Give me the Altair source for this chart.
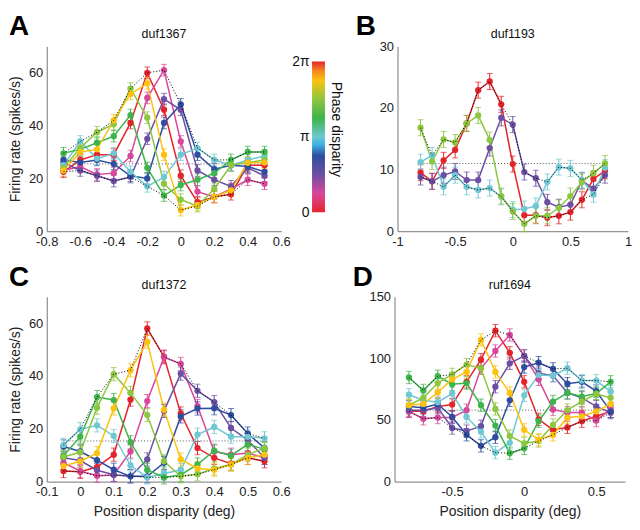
import altair as alt
import pandas as pd

FONT = "Liberation Sans"

# curve phase (in units of pi)
PH8 = [0.0, 0.25, 0.5, 0.75, 1.0, 1.25, 1.5, 1.75]
PH4 = [0.0, 0.5, 1.0, 1.5]

# ---------------- Panel A: duf1367 ----------------
XA = [-0.7, -0.6, -0.5, -0.4, -0.3, -0.2, -0.1, 0.0, 0.1, 0.2, 0.3, 0.4, 0.5]
A_RED = [22.5, 27, 29, 29, 41, 60, 46, 21, 11, 13, 14, 25, 25]
A_MAG = [23, 24.5, 21.5, 22, 28.5, 50.5, 61, 34, 15, 13, 16, 19.5, 18]
A_PUR = [26, 23, 21, 19, 20.5, 35, 50, 46, 23, 19.5, 17, 24, 21]
A_BLU = [27, 26, 27, 25.5, 21, 20, 41, 48, 29, 23.5, 25, 24.5, 22.5]
A_CYA = [25, 34, 27.5, 29.5, 22.5, 17, 20.5, 29, 31.5, 27, 25, 27, 28.5]
A_GRN = [29.5, 31, 33.5, 36, 44, 24, 13.5, 17.5, 19.5, 22, 27, 30, 30]
A_LGR = [24, 31.5, 37.5, 40.5, 54, 43, 18, 12, 9.5, 16, 25, 26, 27]
A_YEL = [23, 30, 31, 42, 52, 56, 29, 8, 10, 13, 15.5, 26, 26]
A_BASE = 25.5
A_ERR = 2.2

# ---------------- Panel B: duf1193 ----------------
XB = [-0.8, -0.7, -0.6, -0.5, -0.4, -0.3, -0.2, -0.1, 0.0, 0.1, 0.2, 0.3, 0.4, 0.5, 0.6, 0.7, 0.8]
B_RED = [9.5, 8.1, 11.5, 13.2, 17.5, 22.9, 24.3, 20.6, 10.9, 2.6, 2.6, 2.2, 2.5, 3.1, 5.1, 8.5, 9.8]
B_PUR = [8.8, 8.1, 9.1, 9.7, 8.3, 8.3, 13.5, 18.4, 17.3, 9.6, 8.6, 4.7, 3.9, 4.3, 8.2, 6.9, 9.1]
B_CYA = [11.2, 12.3, 7.2, 9.1, 7.2, 6.7, 7.0, 5.6, 3.5, 3.6, 4.1, 8.0, 10.4, 10.2, 8.3, 6.0, 10.3]
B_LGR = [16.8, 11.3, 14.9, 14.4, 17.5, 18.8, 14.8, 5.7, 3.2, 1.2, 2.5, 2.5, 3.8, 5.7, 8.0, 9.4, 11.0]
B_BASE = 11.0
B_ERR = 1.3

# ---------------- Panel C: duf1372 ----------------
XC = [-0.05, 0.0, 0.05, 0.1, 0.15, 0.2, 0.25, 0.3, 0.35, 0.4, 0.45, 0.5, 0.55]
C_RED = [4, 3.7, 5.5, 10.2, 31, 58, 47.3, 25.8, 12.7, 9, 6.8, 9, 7.7]
C_MAG = [7.1, 4, 2.2, 2.5, 11.4, 30.5, 47.1, 44.6, 28.6, 11.4, 10.2, 10.8, 9]
C_PUR = [9, 8, 4.3, 2.6, 2, 8.4, 26.8, 40.9, 34.4, 30.1, 20.3, 15.7, 9]
C_BLU = [13.3, 11.4, 8.1, 4.5, 2, 2, 7.1, 24.7, 27.7, 27.8, 25.2, 18.2, 12.7]
C_CYA = [13.9, 19.8, 21.3, 17.3, 6.1, 1.6, 3.1, 4.4, 17.8, 20.7, 17, 17, 16.4]
C_GRN = [9.8, 17, 32, 30.9, 14.9, 4.4, 1.6, 2.5, 6.5, 11.7, 9.8, 14.1, 12.3]
C_LGR = [9.3, 11.2, 28, 40.7, 33.6, 25.2, 7.7, 2.0, 2.8, 5, 6.5, 10.2, 12.7]
C_YEL = [5.9, 7.7, 10.8, 27.7, 42.2, 52.9, 27.2, 8.4, 5, 4.5, 6.5, 9, 10.2]
C_BASE = 15.4
C_ERR = 2.5

# ---------------- Panel D: ruf1694 ----------------
XD = [-0.8, -0.7, -0.6, -0.5, -0.4, -0.3, -0.2, -0.1, 0.0, 0.1, 0.2, 0.3, 0.4, 0.5, 0.6]
D_RED = [57, 57, 61, 62.5, 81, 99, 122.5, 104.5, 81, 50.5, 42, 44, 49, 53, 57]
D_MAG = [57, 51, 52, 52, 58, 92, 106, 119, 102, 83, 58.5, 56, 56, 49.5, 59]
D_PUR = [58, 58, 60, 43.5, 41, 45, 77, 96, 102, 88, 86, 72, 68, 61, 56]
D_BLU = [61, 60, 63, 52.5, 38, 29, 36, 66, 93, 96.5, 91.5, 79.5, 81, 73.5, 57]
D_CYA = [70.5, 66, 64.5, 71.5, 52.5, 40.5, 23.5, 31.5, 70, 86.5, 86, 92, 82, 82, 73]
D_GRN = [84.5, 74, 85.5, 79, 80, 62, 45.5, 23, 27, 49, 65, 72, 69, 71.5, 81]
D_LGR = [62, 68, 80, 87, 95, 92, 59, 37, 31, 33, 46, 58, 65, 71, 68]
D_YEL = [62, 63, 72.5, 83, 89, 115, 89, 72, 42, 34, 38, 52, 53, 57, 63]
D_BASE = 58.0
D_ERR = 5.0

# colour scale (phase disparity 0..2pi, in units of pi)
COLOR_STOPS = [0.0, 0.25, 0.5, 0.75, 0.9, 1.0, 1.25, 1.5, 1.75, 1.88, 2.0]
COLOR_RANGE = ["#e3242b", "#d9479b", "#6c4fa2", "#2e4d9f", "#3fb2e3", "#6fc8d2",
               "#3db54a", "#8dc63f", "#fcc20f", "#f58220", "#e3242b"]
CB_TICKS = [0, 1, 2]
CB_LABELS = "datum.value == 0 ? '0' : (datum.value == 1 ? 'π' : '2π')"

LBL = "datum.value < 0 ? '-' + format(-datum.value, '~g') : format(datum.value, '~g')"


def long_df(xs, phases, series, err):
    rows = []
    for ph, ys in zip(phases, series):
        for x, y in zip(xs, ys):
            rows.append({"x": x, "rate": y, "phase": ph, "series": str(ph),
                         "lo": y - err, "hi": y + err})
    return pd.DataFrame(rows)


COLOR = alt.Color("phase:Q", scale=alt.Scale(domain=COLOR_STOPS, range=COLOR_RANGE),
                  legend=None)


def panel(letter, name, xs, df, base, xdom, xticks, ydom, yticks, w, h,
          ytitle, xtitle, letter_x):
    xax = alt.Axis(values=xticks, title=xtitle, labelExpr=LBL, labelFlush=False)
    yax = alt.Axis(values=yticks, title=ytitle, labelFlush=False)

    def X(f):
        return alt.X(f"{f}:Q", scale=alt.Scale(domain=xdom, nice=False, zero=False), axis=xax)

    def Y(f):
        return alt.Y(f"{f}:Q", scale=alt.Scale(domain=ydom, nice=False, zero=False), axis=yax)

    base_df = pd.DataFrame({"x0": [min(xs)], "x1": [max(xs)], "b": [base]})
    baseline = alt.Chart(base_df).mark_rule(
        color="#555", strokeDash=[1, 2], strokeWidth=1
    ).encode(x=X("x0"), x2="x1:Q", y=Y("b"))

    c = alt.Chart(df)
    lines = c.mark_line(strokeWidth=1.5).encode(
        x=X("x"), y=Y("rate"), color=COLOR, detail="series:N")
    errs = c.mark_errorbar(ticks=True, size=6, thickness=1).encode(
        x=X("x"), y=Y("lo"), y2="hi:Q", color=COLOR)
    pts = c.mark_circle(size=40, opacity=1).encode(
        x=X("x"), y=Y("rate"), color=COLOR)
    env_hi = c.transform_aggregate(ymax="max(rate)", groupby=["x"]).mark_line(
        color="black", strokeDash=[1, 2], strokeWidth=1).encode(x=X("x"), y=Y("ymax"))
    env_lo = c.transform_aggregate(ymin="min(rate)", groupby=["x"]).mark_line(
        color="black", strokeDash=[1, 2], strokeWidth=1).encode(x=X("x"), y=Y("ymin"))
    lab = alt.Chart(pd.DataFrame({"t": [letter]})).mark_text(
        align="left", baseline="top", fontSize=28, fontWeight="bold", font=FONT,
        color="black").encode(text="t:N", x=alt.value(letter_x), y=alt.value(-33))
    ttl = alt.Chart(pd.DataFrame({"t": [name]})).mark_text(
        align="center", baseline="bottom", fontSize=12.5, font=FONT,
        color="#111").encode(text="t:N", x=alt.value(w / 2), y=alt.value(-5))

    return alt.layer(baseline, lines, errs, pts, env_hi, env_lo, lab, ttl).properties(
        width=w, height=h)


dfA = long_df(XA, PH8, [A_RED, A_MAG, A_PUR, A_BLU, A_CYA, A_GRN, A_LGR, A_YEL], A_ERR)
dfB = long_df(XB, PH4, [B_RED, B_PUR, B_CYA, B_LGR], B_ERR)
dfC = long_df(XC, PH8, [C_RED, C_MAG, C_PUR, C_BLU, C_CYA, C_GRN, C_LGR, C_YEL], C_ERR)
dfD = long_df(XD, PH8, [D_RED, D_MAG, D_PUR, D_BLU, D_CYA, D_GRN, D_LGR, D_YEL], D_ERR)

W1, W2, H = 236, 232, 186
YT = "Firing rate (spikes/s)"
XT = "Position disparity (deg)"

pA = panel("A", "duf1367", XA, dfA, A_BASE, [-0.8, 0.6],
           [-0.8, -0.6, -0.4, -0.2, 0, 0.2, 0.4, 0.6], [0, 70], [0, 20, 40, 60],
           W1, H, YT, None, -38)
pB = panel("B", "duf1193", XB, dfB, B_BASE, [-1, 1],
           [-1, -0.5, 0, 0.5, 1], [0, 30], [0, 10, 20, 30],
           W2, H, None, None, -42)
pC = panel("C", "duf1372", XC, dfC, C_BASE, [-0.1, 0.6],
           [-0.1, 0, 0.1, 0.2, 0.3, 0.4, 0.5, 0.6], [0, 70], [0, 20, 40, 60],
           W1, H, YT, XT, -38)
pD = panel("D", "ruf1694", XD, dfD, D_BASE, [-0.9, 0.7],
           [-0.5, 0, 0.5], [0, 150], [0, 50, 100, 150],
           W2, H, None, XT, -42)

# ---------------- colour bar (phase disparity) ----------------
cb_df = pd.DataFrame({"lo": [COLOR_STOPS[0]], "hi": [COLOR_STOPS[-1]]})
grad = alt.LinearGradient(
    gradient="linear",
    stops=[alt.GradientStop(offset=s / COLOR_STOPS[-1], color=c)
           for s, c in zip(COLOR_STOPS, COLOR_RANGE)],
    x1=0, x2=0, y1=1, y2=0,
)
cbar = alt.Chart(cb_df).mark_rect(fill=grad).encode(
    y=alt.Y("lo:Q", scale=alt.Scale(domain=[0, 2.2], nice=False, zero=False),
            axis=alt.Axis(values=CB_TICKS, labelExpr=CB_LABELS, title=None, domain=False,
                          ticks=False, labelFontSize=14, labelColor="#111",
                          labelPadding=3, labelFlush=False)),
    y2="hi:Q",
    x=alt.value(0), x2=alt.value(13),
).properties(
    width=13, height=167,
    title=alt.TitleParams(text="Phase disparity", orient="right", anchor="middle",
                          offset=4, fontSize=14, fontWeight="normal", font=FONT,
                          color="#111"),
)

row1 = alt.hconcat(alt.hconcat(pA, cbar, spacing=0), pB, spacing=13)
row2 = alt.hconcat(pC, pD, spacing=62)

chart = alt.vconcat(row1, row2, spacing=16).properties(
    padding={"left": 0, "top": 4, "right": 0, "bottom": 0}, background="white"
).configure_view(stroke=None).configure_axis(
    labelFont=FONT, titleFont=FONT, labelFontSize=13, titleFontSize=14,
    labelColor="#222", titleColor="#222", domainColor="#777", grid=False,
    ticks=False, labelPadding=4, titlePadding=6, titleFontWeight="normal",
)

chart.save("out.html", embed_options={"renderer": "svg", "actions": False})
